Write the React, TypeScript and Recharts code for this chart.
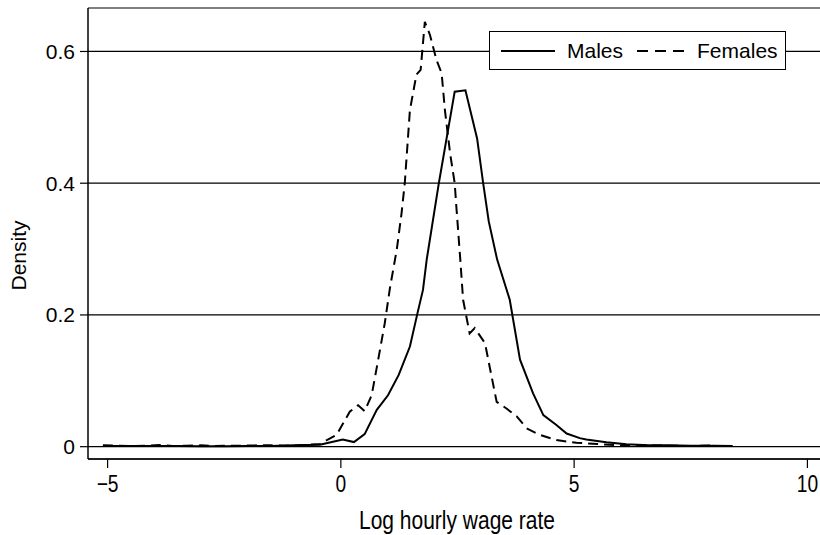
import React from "react";
import { LineChart, Line, XAxis, YAxis, CartesianGrid, Legend } from "recharts";

// kernel density readings, log hourly wage rate
const maleX = [
  -5.1, -4.5, -4.0, -3.5, -3.0, -2.5, -2.0, -1.5, -1.0, -0.45, 0.04, 0.28, 0.51,
  0.77, 1.01, 1.24, 1.48, 1.65, 1.76, 1.84, 2.1, 2.44, 2.67, 2.92, 3.05, 3.17,
  3.35, 3.62, 3.84, 4.12, 4.34, 4.62, 4.84, 5.12, 5.26, 5.69, 6.12, 6.6, 7.0,
  7.5, 8.0, 8.4,
];
const maleY = [
  0.001, 0.001, 0.001, 0.001, 0.0005, 0.0005, 0.001, 0.001, 0.002, 0.003, 0.011,
  0.007, 0.019, 0.056, 0.078, 0.109, 0.152, 0.205, 0.238, 0.284, 0.4, 0.539,
  0.541, 0.468, 0.4, 0.342, 0.284, 0.223, 0.132, 0.081, 0.048, 0.033, 0.02,
  0.013, 0.011, 0.0067, 0.0036, 0.002, 0.002, 0.0015, 0.0015, 0.001,
];
const femaleX = [
  -5.1, -4.8, -4.5, -4.2, -3.9, -3.6, -3.3, -3.0, -2.7, -2.4, -2.1, -1.8, -1.5,
  -1.2, -0.9, -0.45, -0.09, 0.19, 0.37, 0.51, 0.66, 0.8, 0.94, 1.05, 1.2, 1.3,
  1.37, 1.48, 1.62, 1.71, 1.8, 1.91, 2.05, 2.16, 2.23, 2.34, 2.44, 2.48, 2.56,
  2.62, 2.76, 2.87, 3.09, 3.19, 3.34, 3.55, 3.77, 3.98, 4.26, 4.62, 5.05, 5.5,
  6.0, 6.5, 7.0, 7.5, 8.0,
];
const femaleY = [
  0.002, 0.0015, 0.001, 0.0015, 0.0025, 0.001, 0.0015, 0.002, 0.001, 0.0015,
  0.0015, 0.002, 0.002, 0.0015, 0.002, 0.004, 0.018, 0.053, 0.063, 0.054, 0.078,
  0.132, 0.187, 0.24, 0.3, 0.354, 0.4, 0.511, 0.565, 0.572, 0.645, 0.625, 0.587,
  0.567, 0.511, 0.446, 0.4, 0.36, 0.284, 0.223, 0.172, 0.18, 0.157, 0.121,
  0.068, 0.058, 0.046, 0.028, 0.018, 0.01, 0.006, 0.004, 0.002, 0.002, 0.0015,
  0.001, 0.002,
];
const xTicks = [-5, 0, 5, 10];
const yTicks = [0, 0.2, 0.4, 0.6];

const males = maleX.map((x, i) => ({ x, y: maleY[i] }));
const females = femaleX.map((x, i) => ({ x, y: femaleY[i] }));

const sans = "'Liberation Sans', Arial, Helvetica, sans-serif";

// the x axis text in the original is condensed, so squeeze it horizontally
const XTick = (props: any) => {
  const { x, y, payload } = props;
  const v = payload.value as number;
  const label = v < 0 ? `\u2212${-v}` : `${v}`;
  return (
    <g transform={`translate(${x} ${y + 22}) scale(0.8 1)`}>
      <text textAnchor="middle" fontFamily={sans} fontSize={24} fill="#000">
        {label}
      </text>
    </g>
  );
};

const XLabel = (props: any) => {
  const { viewBox } = props;
  const cx = viewBox.x + viewBox.width / 2 + 3;
  return (
    <g transform={`translate(${cx} 529) scale(0.84 1)`}>
      <text textAnchor="middle" fontFamily={sans} fontSize={25} fill="#000">
        Log hourly wage rate
      </text>
    </g>
  );
};

const DensityLabel = (props: any) => {
  const { viewBox } = props;
  const cx = 18;
  const cy = viewBox.y + viewBox.height / 2 + 22;
  return (
    <text
      x={cx}
      y={cy}
      transform={`rotate(-90 ${cx} ${cy})`}
      textAnchor="middle"
      dominantBaseline="central"
      fontFamily={sans}
      fontSize={21}
      fill="#000"
    >
      Density
    </text>
  );
};

const LegendBox = () => (
  <div
    style={{
      width: 297,
      height: 39,
      boxSizing: "border-box",
      border: "1.5px solid #000",
      background: "#fff",
      display: "flex",
      alignItems: "center",
      fontFamily: sans,
      fontSize: 21,
      color: "#000",
    }}
  >
    <svg width={54} height={4} style={{ marginLeft: 11 }}>
      <line x1={0} y1={2} x2={54} y2={2} stroke="#000" strokeWidth={2} />
    </svg>
    <span style={{ marginLeft: 12 }}>Males</span>
    <svg width={48} height={4} style={{ marginLeft: 14 }}>
      <line x1={0} y1={2} x2={48} y2={2} stroke="#000" strokeWidth={2} strokeDasharray="11 7" />
    </svg>
    <span style={{ marginLeft: 12 }}>Females</span>
  </div>
);

export default function App() {
  return (
    <div style={{ position: "absolute", left: 0, top: 0, background: "#fff" }}>
      <LineChart width={820} height={535} margin={{ top: 8, right: 0, bottom: 0, left: 0 }}>
        <CartesianGrid vertical={false} stroke="#000" strokeWidth={1.2} />
        <XAxis
          dataKey="x"
          type="number"
          domain={[-5.42, 10.27]}
          allowDataOverflow
          ticks={xTicks}
          height={76}
          tickSize={9}
          axisLine={{ stroke: "#000", strokeWidth: 1.5 }}
          tickLine={{ stroke: "#000", strokeWidth: 1.2 }}
          tick={<XTick />}
          label={<XLabel />}
        />
        <YAxis
          type="number"
          domain={[-0.0187, 0.666]}
          allowDataOverflow
          ticks={yTicks}
          tickFormatter={(v: number) => (v === 0 ? "0" : v.toFixed(1))}
          width={88}
          tickSize={8}
          tickMargin={5}
          axisLine={{ stroke: "#000", strokeWidth: 1.5 }}
          tickLine={{ stroke: "#000", strokeWidth: 1.2 }}
          tick={{ fill: "#000", fontFamily: sans, fontSize: 21 }}
          label={<DensityLabel />}
        />
        <Legend
          layout="horizontal"
          verticalAlign="middle"
          align="center"
          content={<LegendBox />}
          wrapperStyle={{ left: 489, top: 31, width: 297 }}
        />
        <Line
          data={males}
          dataKey="y"
          name="Males"
          stroke="#000"
          strokeWidth={2}
          dot={false}
          activeDot={false}
          type="linear"
          isAnimationActive={false}
        />
        <Line
          data={females}
          dataKey="y"
          name="Females"
          stroke="#000"
          strokeWidth={2}
          strokeDasharray="10 6"
          dot={false}
          activeDot={false}
          type="linear"
          isAnimationActive={false}
        />
      </LineChart>
    </div>
  );
}
